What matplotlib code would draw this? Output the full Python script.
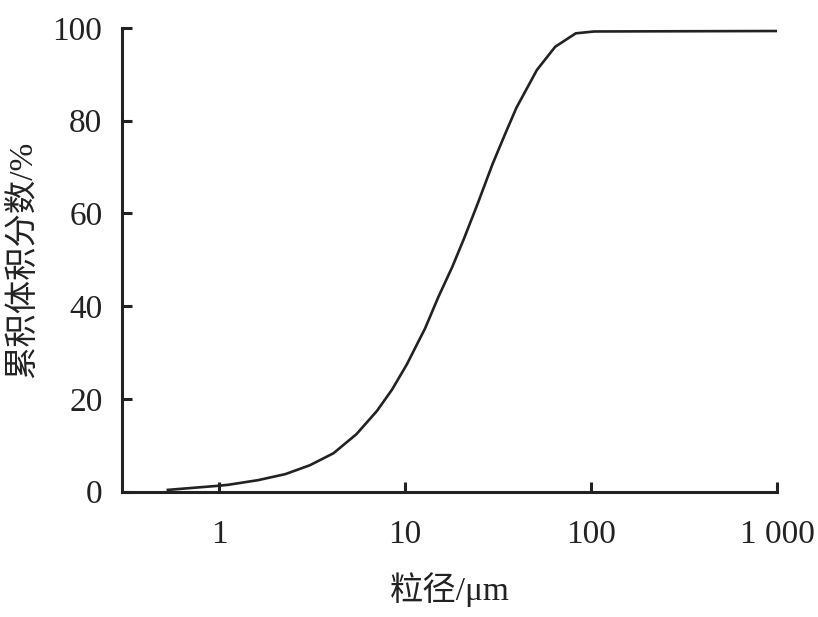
import matplotlib
matplotlib.use("Agg")
import matplotlib.pyplot as plt

# 粒径 (μm) 与累积体积分数 (%)
size_um = [0.53, 1.0, 1.12, 1.62, 2.27, 3.07, 4.12, 5.47, 7.05, 8.5, 10.2, 12.8,
           15.1, 17.9, 20.7, 24.5, 29.5, 34.4, 39.6, 51.1, 64.1, 82.7, 103.8, 1000]
cum_pct = [0.4, 1.3, 1.5, 2.5, 3.8, 5.7, 8.3, 12.4, 17.4, 22.0, 27.4, 35.2,
           42.0, 48.4, 54.5, 62.0, 70.6, 77.0, 82.7, 90.9, 95.9, 98.8, 99.2, 99.3]

x_ticks = [1, 10, 100, 1000]
x_tick_labels = ["1", "10", "100", "1 000"]
y_ticks = [0, 20, 40, 60, 80, 100]

FONT = ["Liberation Serif", "Noto Sans CJK SC"]
INK = "#222222"

fig = plt.figure(figsize=(8.18, 6.17), dpi=100)
ax = fig.add_axes([0.149, 0.203, 0.801, 0.752])

ax.plot(size_um, cum_pct, color=INK, linewidth=1.9)

ax.set_xscale("log")
ax.set_xlim(0.3, 1000)
ax.set_ylim(0, 100)
ax.set_xticks(x_ticks)
ax.set_xticklabels(x_tick_labels)
ax.set_yticks(y_ticks)
ax.minorticks_off()

for side in ("top", "right"):
    ax.spines[side].set_visible(False)
for side in ("left", "bottom"):
    ax.spines[side].set_linewidth(2.2)
    ax.spines[side].set_color(INK)

ax.tick_params(axis="both", direction="in", length=7, width=2.2, color=INK,
               labelsize=24, labelcolor=INK)
ax.tick_params(axis="x", pad=20)
ax.tick_params(axis="y", pad=14)
for lab in ax.get_xticklabels() + ax.get_yticklabels():
    lab.set_family(FONT)

ax.set_xlabel("粒径/μm", family=FONT, fontsize=24, color=INK, labelpad=16)
ax.set_ylabel("累积体积分数/%", family=FONT, fontsize=24, color=INK, labelpad=10)

fig.savefig("out.png", dpi=100)
